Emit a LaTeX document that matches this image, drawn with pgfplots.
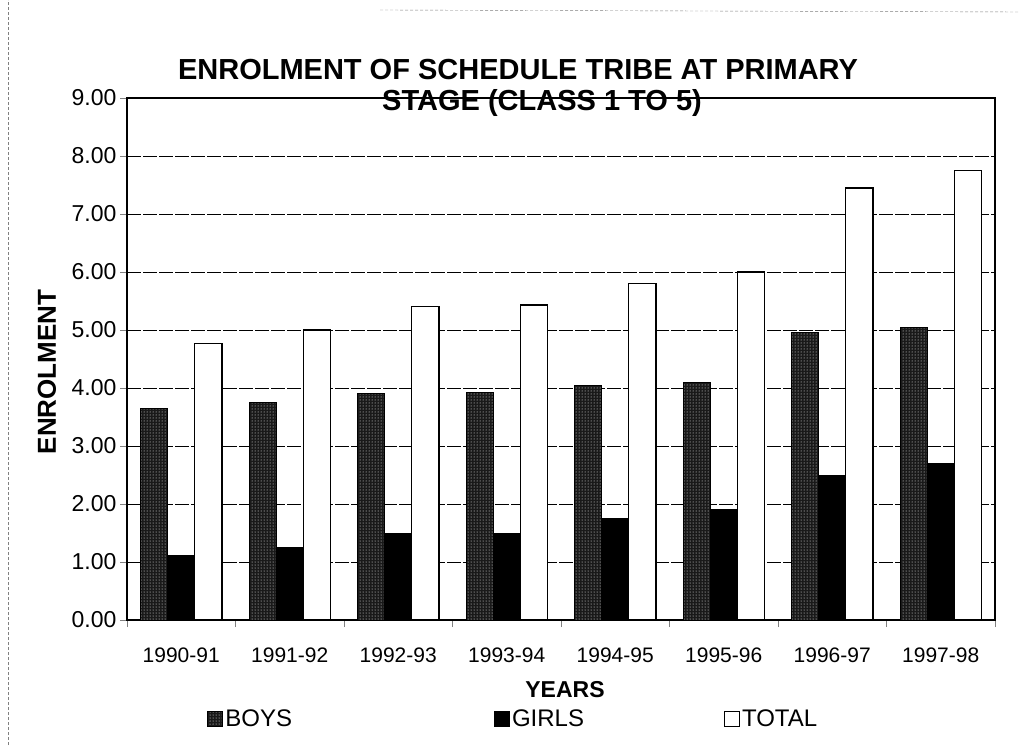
\documentclass[border=0pt]{standalone}
\usepackage{pgfplots}
\pgfplotsset{compat=1.18}
\usetikzlibrary{patterns}
\usepackage{fontspec}
\setmainfont{Liberation Sans}
\pgfplotstableread{
x boys girls total
0 3.65 1.12 4.77
1 3.75 1.25 5.00
2 3.90 1.50 5.40
3 3.93 1.50 5.43
4 4.05 1.75 5.80
5 4.10 1.90 6.00
6 4.95 2.50 7.45
7 5.05 2.70 7.75
}\data
\begin{document}
\begin{tikzpicture}
\useasboundingbox (0pt,0pt) rectangle (1020pt,745pt);
\draw[densely dashed, gray, thin] (8pt,0pt) -- (8pt,745pt);
\draw[densely dashed, gray, thin] (380pt,735pt) -- (1020pt,733pt);
\begin{axis}[
  at={(127pt,125pt)}, anchor=south west,
  width=868pt, height=522pt, scale only axis,
  xmin=-0.5, xmax=7.5, ymin=0, ymax=9,
  ybar, bar width=0.25,
  ytick={0,1,...,9},
  yticklabel style={font=\fontsize{23}{26}\selectfont, /pgf/number format/.cd, fixed, fixed zerofill, precision=2, assume math mode=true},
  xtick={-0.5,0.5,...,7.5}, xticklabels={},
  extra x ticks={0,1,...,7},
  extra x tick labels={1990-91,1991-92,1992-93,1993-94,1994-95,1995-96,1996-97,1997-98},
  extra x tick style={major tick length=0pt, grid=none, tick label style={font=\fontsize{21}{24}\selectfont, yshift=-24pt}},
  tick align=outside, tick pos=left,
  major tick length=7pt,
  ymajorgrids, grid style={black, thin, dash pattern=on 14pt off 2pt},
  axis line style={black, line width=1.2pt},
  legend columns=3,
  legend style={at={(0.445,-0.19)}, anchor=center, draw=none, font=\fontsize{24}{28}\selectfont,
    /tikz/column 2/.style={column sep=200pt}, /tikz/column 4/.style={column sep=138pt}},
  legend image code/.code={\draw[#1, line width=1pt] (0pt,-7pt) rectangle (15pt,8pt);},
]
\addplot[bar shift=-0.25, draw=black, line width=1pt, fill=black!90, postaction={pattern=dots, pattern color=white}] table[x=x, y=boys]{\data};
\addplot[bar shift=0, draw=black, line width=1pt, fill=black] table[x=x, y=girls]{\data};
\addplot[bar shift=0.25, draw=black, line width=1.2pt, fill=white] table[x=x, y=total]{\data};
\legend{BOYS, GIRLS, TOTAL}
\end{axis}
\node[font=\bfseries\fontsize{29}{34}\selectfont] at (518pt,675pt) {ENROLMENT OF SCHEDULE TRIBE AT PRIMARY};
\node[font=\bfseries\fontsize{29}{34}\selectfont] at (542pt,642pt) {STAGE (CLASS 1 TO 5)};
\node[font=\bfseries\fontsize{26}{30}\selectfont, rotate=90] at (47pt,373pt) {ENROLMENT};
\node[font=\bfseries\fontsize{23}{26}\selectfont] at (565pt,55pt) {YEARS};
\end{tikzpicture}
\end{document}
